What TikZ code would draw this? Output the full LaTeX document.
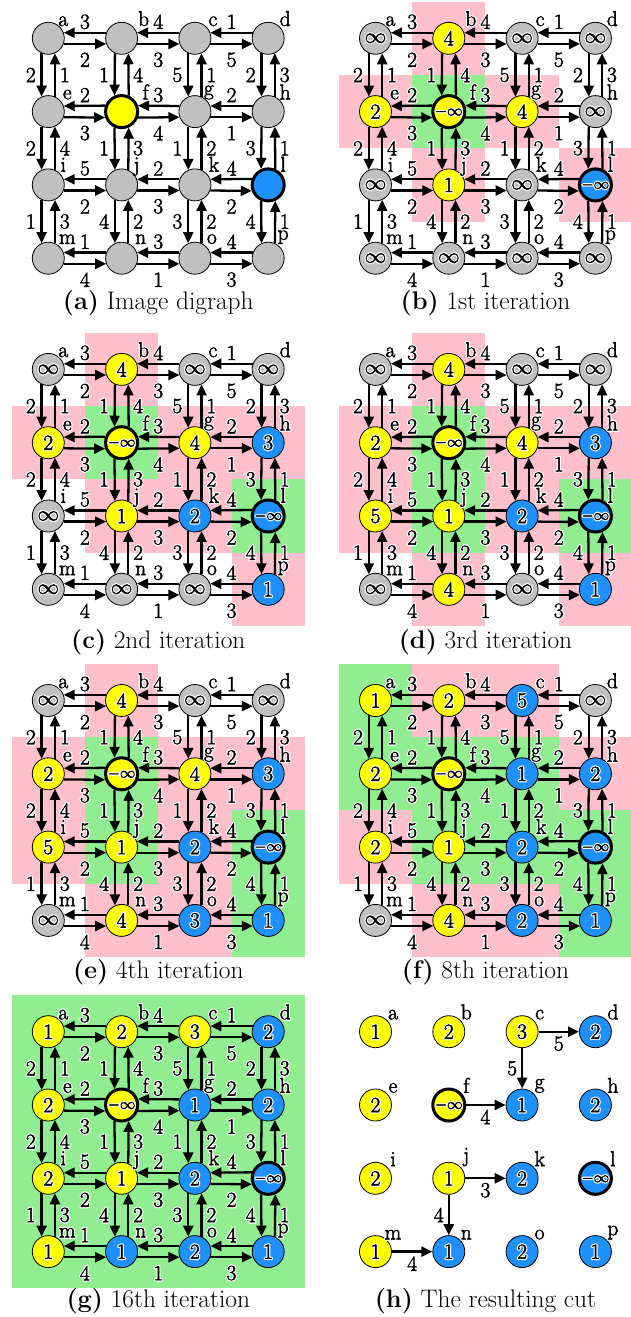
\RequirePackage{fix-cm}
\documentclass[tikz,border=0pt]{standalone}
\usepackage{fontspec}
\usetikzlibrary{arrows.meta,calc}
\definecolor{nG}{RGB}{192,192,192}
\definecolor{nY}{RGB}{255,255,0}
\definecolor{nB}{RGB}{30,144,255}
\definecolor{cP}{RGB}{255,192,203}
\definecolor{cG}{RGB}{144,238,144}
\newcommand\bolden[1]{\special{pdf:literal 2 Tr 0 0 0 RG 0.45 w 1 j}#1\special{pdf:literal 0 Tr 0.4 w}}
\newcommand\halo[1]{\hbox{\hbox to 0pt{\special{pdf:literal 1 Tr 1 1 1 RG 2.8 w 1 j 1 J}#1\special{pdf:literal 0 Tr 0 0 0 RG 0.4 w}\hss}\bolden{#1}}}
\newcommand\plainlab[1]{\hbox{\bolden{#1}}}
\let\lab\halo
\newcommand\V[1]{\lab{#1}}
\newcommand\INF{\lab{$\infty$}}
\newcommand\NINF{{\fontsize{15.5}{15.5}\selectfont\lab{$-\infty$}}}
\tikzset{
  gn/.style={circle,draw=black,line width=0.8pt,minimum size=32pt,inner sep=0pt,font=\fontsize{21.5}{23}\selectfont},
  thk/.style={line width=3pt},
  nt/.style={},
  arr/.style={line width=2.3pt,-{Triangle[length=11pt,width=10pt]}},
  elab/.style={inner sep=0pt,font=\fontsize{21.5}{23}\selectfont},
  captxt/.style={anchor=base,inner sep=0pt,font=\fontsize{25.4}{28}\selectfont},
}
\newcommand\gnodes[4]{%
  \foreach \nm/\fc/\txt/\st [count=\ii from 0] in {#4} {
    \pgfmathtruncatemacro\cc{mod(\ii,4)}
    \pgfmathtruncatemacro\rr{floor(\ii/4)}
    \node[gn,fill=\fc,\st] (#1-\nm) at ({#2+\cc*73.3},{#3+\rr*73.3}) {\txt};
  }}
\newcommand\gcells[3]{%
  \foreach \cx/\ry/\col in {#3} {
    \fill[\col] ({#1+\cx*73.3-36.65},{#2+\ry*73.3-36.65}) rectangle ++(73.3,73.3);
  }}
\newcommand\hpairs{a/b/3/2,b/c/4/3,c/d/1/5,e/f/2/3,f/g/3/4,g/h/2/1,i/j/5/2,j/k/2/3,k/l/4/2,m/n/1/4,n/o/3/1,o/p/4/3}
\newcommand\vpairs{a/e/2/1,b/f/1/4,c/g/5/1,d/h/2/3,e/i/2/4,f/j/1/3,g/k/1/2,h/l/3/1,i/m/1/3,j/n/4/2,k/o/3/2,l/p/4/1}
\newcommand\gedges[1]{%
  \foreach \ea/\eb/\wa/\wb in \hpairs {
    \draw[arr] (#1-\eb.160) -- (#1-\ea.20);
    \draw[arr] (#1-\ea.-20) -- (#1-\eb.200);
  }
  \foreach \ea/\eb/\wa/\wb in \vpairs {
    \draw[arr] (#1-\ea.246) -- (#1-\eb.114);
    \draw[arr] (#1-\eb.66) -- (#1-\ea.294);
  }
  \foreach \ea/\eb/\wa/\wb in \hpairs {
    \node[elab] at ($(#1-\ea)!0.5!(#1-\eb)+(0,-16.5)$) {\lab{\wa}};
    \node[elab] at ($(#1-\ea)!0.5!(#1-\eb)+(0,21.5)$) {\lab{\wb}};
  }
  \foreach \ea/\eb/\wa/\wb in \vpairs {
    \node[elab] at ($(#1-\ea)!0.5!(#1-\eb)+(-17.5,0)$) {\lab{\wa}};
    \node[elab] at ($(#1-\ea)!0.5!(#1-\eb)+(16.5,0)$) {\lab{\wb}};
  }
  \foreach \nn/\dx/\dy in {a/15/-12,b/22/-12,c/18/-12,d/17/-12,e/19/-12,f/24/-12,g/14/-12,h/17/-12,i/15/-13,j/15/-9,k/19/-13,l/15/-13,m/19/-14,n/19/-14,o/17/-14,p/15/-14} {
    \node[elab,anchor=south] at ($(#1-\nn)+(\dx,\dy)$) {\lab{\nn}};
  }}
\begin{document}
\begin{tikzpicture}[x=1pt,y=-1pt]
\useasboundingbox (0,0) rectangle (631,1317);
% (a)
\let\lab\plainlab
\gnodes{A}{48.3}{38.3}{a/nG/{}/nt,b/nG/{}/nt,c/nG/{}/nt,d/nG/{}/nt,e/nG/{}/nt,f/nY/{}/thk,g/nG/{}/nt,h/nG/{}/nt,i/nG/{}/nt,j/nG/{}/nt,k/nG/{}/nt,l/nB/{}/thk,m/nG/{}/nt,n/nG/{}/nt,o/nG/{}/nt,p/nG/{}/nt}
\gedges{A}
\let\lab\halo
% (b)
\gcells{375.5}{38.3}{1/0/cP,0/1/cP,1/1/cG,2/1/cP,1/2/cP,3/2/cP}
\gnodes{B}{375.5}{38.3}{a/nG/\INF/nt,b/nY/\V4/nt,c/nG/\INF/nt,d/nG/\INF/nt,e/nY/\V2/nt,f/nY/\NINF/thk,g/nY/\V4/nt,h/nG/\INF/nt,i/nG/\INF/nt,j/nY/\V1/nt,k/nG/\INF/nt,l/nB/\NINF/thk,m/nG/\INF/nt,n/nG/\INF/nt,o/nG/\INF/nt,p/nG/\INF/nt}
\gedges{B}
% (c)
\gcells{48.3}{369.4}{1/0/cP,0/1/cP,1/1/cG,2/1/cP,3/1/cP,1/2/cP,2/2/cP,3/2/cG,3/3/cP}
\gnodes{C}{48.3}{369.4}{a/nG/\INF/nt,b/nY/\V4/nt,c/nG/\INF/nt,d/nG/\INF/nt,e/nY/\V2/nt,f/nY/\NINF/thk,g/nY/\V4/nt,h/nB/\V3/nt,i/nG/\INF/nt,j/nY/\V1/nt,k/nB/\V2/nt,l/nB/\NINF/thk,m/nG/\INF/nt,n/nG/\INF/nt,o/nG/\INF/nt,p/nB/\V1/nt}
\gedges{C}
% (d)
\gcells{375.5}{369.4}{1/0/cP,0/1/cP,1/1/cG,2/1/cP,3/1/cP,0/2/cP,1/2/cG,2/2/cP,3/2/cG,1/3/cP,3/3/cP}
\gnodes{D}{375.5}{369.4}{a/nG/\INF/nt,b/nY/\V4/nt,c/nG/\INF/nt,d/nG/\INF/nt,e/nY/\V2/nt,f/nY/\NINF/thk,g/nY/\V4/nt,h/nB/\V3/nt,i/nY/\V5/nt,j/nY/\V1/nt,k/nB/\V2/nt,l/nB/\NINF/thk,m/nG/\INF/nt,n/nY/\V4/nt,o/nG/\INF/nt,p/nB/\V1/nt}
\gedges{D}
% (e)
\gcells{48.3}{700.5}{1/0/cP,0/1/cP,1/1/cG,2/1/cP,3/1/cP,0/2/cP,1/2/cG,2/2/cP,3/2/cG,1/3/cP,2/3/cP,3/3/cG}
\gnodes{E}{48.3}{700.5}{a/nG/\INF/nt,b/nY/\V4/nt,c/nG/\INF/nt,d/nG/\INF/nt,e/nY/\V2/nt,f/nY/\NINF/thk,g/nY/\V4/nt,h/nB/\V3/nt,i/nY/\V5/nt,j/nY/\V1/nt,k/nB/\V2/nt,l/nB/\NINF/thk,m/nG/\INF/nt,n/nY/\V4/nt,o/nB/\V3/nt,p/nB/\V1/nt}
\gedges{E}
% (f)
\gcells{375.5}{700.5}{0/0/cG,1/0/cP,2/0/cP,0/1/cG,1/1/cG,2/1/cG,3/1/cP,0/2/cP,1/2/cG,2/2/cG,3/2/cG,1/3/cP,2/3/cP,3/3/cG}
\gnodes{F}{375.5}{700.5}{a/nY/\V1/nt,b/nY/\V2/nt,c/nB/\V5/nt,d/nG/\INF/nt,e/nY/\V2/nt,f/nY/\NINF/thk,g/nB/\V1/nt,h/nB/\V2/nt,i/nY/\V2/nt,j/nY/\V1/nt,k/nB/\V2/nt,l/nB/\NINF/thk,m/nG/\INF/nt,n/nY/\V4/nt,o/nB/\V2/nt,p/nB/\V1/nt}
\gedges{F}
% (g)
\fill[cG] (11.65,995.05) rectangle ++(293.2,293.2);
\gnodes{G}{48.3}{1031.7}{a/nY/\V1/nt,b/nY/\V2/nt,c/nY/\V3/nt,d/nB/\V2/nt,e/nY/\V2/nt,f/nY/\NINF/thk,g/nB/\V1/nt,h/nB/\V2/nt,i/nY/\V2/nt,j/nY/\V1/nt,k/nB/\V2/nt,l/nB/\NINF/thk,m/nY/\V1/nt,n/nB/\V1/nt,o/nB/\V2/nt,p/nB/\V1/nt}
\gedges{G}
% (h)
\gnodes{H}{375.5}{1031.7}{a/nY/\V1/nt,b/nY/\V2/nt,c/nY/\V3/nt,d/nB/\V2/nt,e/nY/\V2/nt,f/nY/\NINF/thk,g/nB/\V1/nt,h/nB/\V2/nt,i/nY/\V2/nt,j/nY/\V1/nt,k/nB/\V2/nt,l/nB/\NINF/thk,m/nY/\V1/nt,n/nB/\V1/nt,o/nB/\V2/nt,p/nB/\V1/nt}
\draw[arr] (H-c) -- (H-d);
\draw[arr] (H-c) -- (H-g);
\draw[arr] (H-f) -- (H-g);
\draw[arr] (H-j) -- (H-k);
\draw[arr] (H-j) -- (H-n);
\draw[arr] (H-m) -- (H-n);
\node[elab] at ($(H-c)!0.5!(H-d)+(0,12)$) {\lab{5}};
\node[elab] at ($(H-c)!0.5!(H-g)+(-10,0)$) {\lab{5}};
\node[elab] at ($(H-f)!0.5!(H-g)+(0,12)$) {\lab{4}};
\node[elab] at ($(H-j)!0.5!(H-k)+(0,12)$) {\lab{3}};
\node[elab] at ($(H-j)!0.5!(H-n)+(-10,0)$) {\lab{4}};
\node[elab] at ($(H-m)!0.5!(H-n)+(0,12)$) {\lab{4}};
\foreach \nn in {a,b,c,d,e,f,g,h,i,j,k,l,m,n,o,p} {
  \node[elab,anchor=south] at ($(H-\nn)+(17.5,-12)$) {\lab{\nn}};
}
% captions
\node[captxt] (capA) at (158.3,309) {\textbf{(a)} Image digraph};
\node[captxt] (capB) at (485.5,309) {\textbf{(b)} 1st iteration};
\node[captxt] (capC) at (158.3,648) {\textbf{(c)} 2nd iteration};
\node[captxt] (capD) at (485.5,648) {\textbf{(d)} 3rd iteration};
\node[captxt] (capE) at (158.3,978) {\textbf{(e)} 4th iteration};
\node[captxt] (capF) at (485.5,978) {\textbf{(f)} 8th iteration};
\node[captxt] (capG) at (158.3,1307) {\textbf{(g)} 16th iteration};
\node[captxt] (capH) at (485.5,1307) {\textbf{(h)} The resulting cut};
\end{tikzpicture}
\end{document}
